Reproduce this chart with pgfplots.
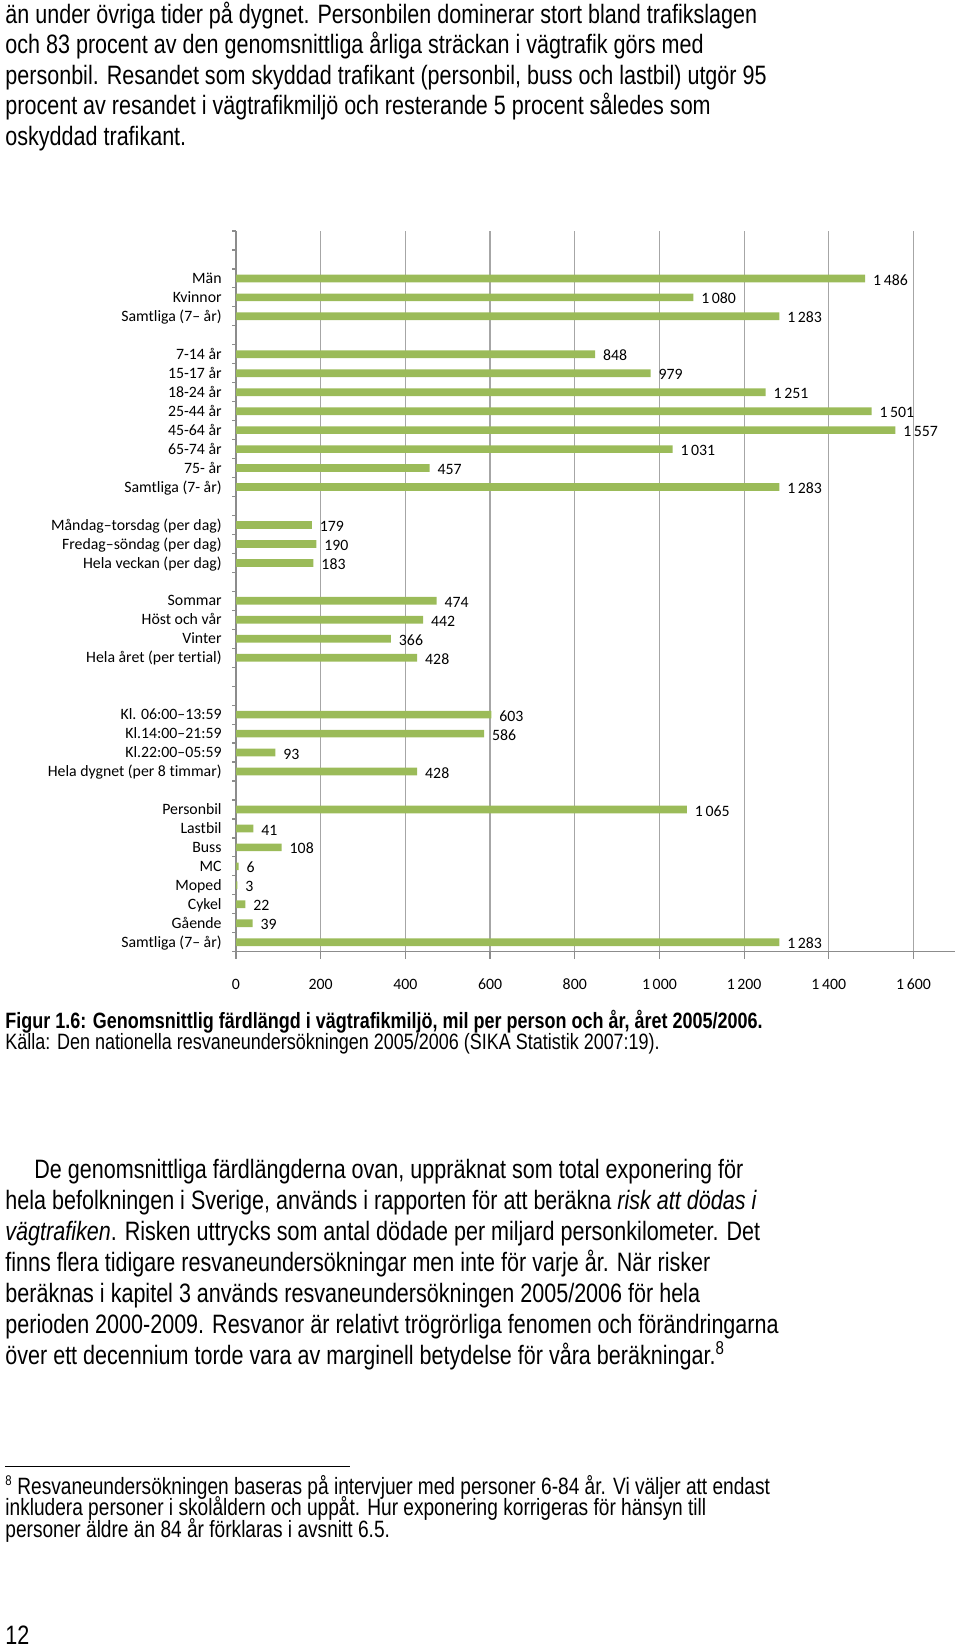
\documentclass[border=0pt]{standalone}
\usepackage{fontspec}
\setmainfont{Liberation Sans}[FakeStretch=0.81]
\newfontfamily\carlito{Carlito}[Ligatures={NoCommon}]
\usepackage{pgfplots}
\pgfplotsset{compat=1.18}
\definecolor{bargreen}{HTML}{9BBB59}
\definecolor{gridgray}{HTML}{A6A6A6}
\definecolor{axisgray}{HTML}{8C8C8C}
\newcommand\bodyfont{\fontsize{13.3}{15.3}\selectfont}
\newcommand\capfont{\fontsize{11.1}{12.5}\selectfont}
\newcommand\fnfont{\fontsize{11.8}{12}\selectfont}
\newcommand\chartfont{\carlito\fontsize{7.9}{9}\selectfont}
\begin{document}
\begin{tikzpicture}
\path[use as bounding box] (0,0) rectangle (480pt,-824pt);
\begin{scope}[every node/.style={anchor=base west, inner sep=0pt}]
\node[font=\bodyfont] at (2.5pt,-11.75pt) {än under övriga tider på dygnet. Personbilen dominerar stort bland trafikslagen};
\node[font=\bodyfont] at (2.5pt,-27pt) {och 83 procent av den genomsnittliga årliga sträckan i vägtrafik görs med};
\node[font=\bodyfont] at (2.5pt,-42.25pt) {personbil. Resandet som skyddad trafikant (personbil, buss och lastbil) utgör 95};
\node[font=\bodyfont] at (2.5pt,-57.5pt) {procent av resandet i vägtrafikmiljö och resterande 5 procent således som};
\node[font=\bodyfont] at (2.5pt,-72.75pt) {oskyddad trafikant.};
\node[font=\capfont\bfseries] at (2.5pt,-514pt) {Figur 1.6: Genomsnittlig färdlängd i vägtrafikmiljö, mil per person och år, året 2005/2006.};
\node[font=\capfont] at (2.5pt,-524.5pt) {Källa: Den nationella resvaneundersökningen 2005/2006 (SIKA Statistik 2007:19).};
\node[font=\bodyfont] at (17pt,-589.25pt) {De genomsnittliga färdlängderna ovan, uppräknat som total exponering för};
\node[font=\bodyfont] at (2.5pt,-604.75pt) {hela befolkningen i Sverige, används i rapporten för att beräkna \textit{risk att dödas i}};
\node[font=\bodyfont] at (2.5pt,-620.25pt) {\textit{vägtrafiken}. Risken uttrycks som antal dödade per miljard personkilometer. Det};
\node[font=\bodyfont] at (2.5pt,-635.75pt) {finns flera tidigare resvaneundersökningar men inte för varje år. När risker};
\node[font=\bodyfont] at (2.5pt,-651.25pt) {beräknas i kapitel 3 används resvaneundersökningen 2005/2006 för hela};
\node[font=\bodyfont] at (2.5pt,-666.75pt) {perioden 2000-2009. Resvanor är relativt trögrörliga fenomen och förändringarna};
\node[font=\bodyfont] at (2.5pt,-682.25pt) {över ett decennium torde vara av marginell betydelse för våra beräkningar.\textsuperscript{8}};
\node[font=\fontsize{7}{7}\selectfont] at (2.5pt,-742.5pt) {8};
\node[font=\fnfont] at (8.5pt,-747pt) {Resvaneundersökningen baseras på intervjuer med personer 6-84 år. Vi väljer att endast};
\node[font=\fnfont] at (2.5pt,-757.75pt) {inkludera personer i skolåldern och uppåt. Hur exponering korrigeras för hänsyn till};
\node[font=\fnfont] at (2.5pt,-768.5pt) {personer äldre än 84 år förklaras i avsnitt 6.5.};
\node[font=\bodyfont] at (2.5pt,-822pt) {12};
\end{scope}
\draw[line width=0.5pt] (2.5pt,-733pt) -- (175pt,-733pt);
\begin{axis}[
  at={(118pt,-475.85pt)}, anchor=south west,
  scale only axis, width=359.5pt, height=360.35pt,
  xmin=0, xmax=1698, ymin=0, ymax=38,
  enlargelimits=false,
  axis x line*=bottom, axis y line*=left,
  axis line style={axisgray, line width=0.6pt},
  xbar, bar width=3.85pt, bar shift=0pt,
  xtick={0,200,...,1600},
  xmajorgrids, grid style={gridgray, line width=0.6pt},
  ytick={0.5,1.5,...,37.5},
  yticklabels={Samtliga (7– år),Gående,Cykel,Moped,MC,Buss,Lastbil,Personbil,{},Hela dygnet (per 8 timmar),Kl.22:00–05:59,Kl.14:00–21:59,Kl. 06:00–13:59,{},{},Hela året (per tertial),Vinter,Höst och vår,Sommar,{},Hela veckan (per dag),Fredag–söndag (per dag),Måndag–torsdag (per dag),{},Samtliga (7- år),75- år,65-74 år,45-64 år,25-44 år,18-24 år,15-17 år,7-14 år,{},Samtliga (7– år),Kvinnor,Män,{},{}},
  minor ytick={0,1,...,38},
  tick align=outside,
  major tick length=3.5pt, minor tick length=1.8pt,
  every major y tick/.append style={draw=none},
  every minor y tick/.append style={axisgray, line width=0.6pt},
  every major x tick/.append style={axisgray, line width=0.6pt},
  /pgf/number format/1000 sep={\,},
  /pgf/number format/assume math mode=true,
  tick label style={font=\chartfont},
  xticklabel style={anchor=base, inner sep=0pt, yshift=-15.6pt},
  yticklabel style={anchor=base east, inner sep=0pt, xshift=-3.5pt, yshift=-2.55pt},
  nodes near coords, point meta=x,
  nodes near coords style={anchor=base west, inner sep=0pt, xshift=3.8pt, yshift=-3.3pt, font=\chartfont, black},
  clip=false,
]
\addplot[fill=bargreen, draw=none] coordinates {
(1486,35.5) (1080,34.5) (1283,33.5)
(848,31.5) (979,30.5) (1251,29.5) (1501,28.5) (1557,27.5) (1031,26.5) (457,25.5) (1283,24.5)
(179,22.5) (190,21.5) (183,20.5)
(474,18.5) (442,17.5) (366,16.5) (428,15.5)
(603,12.5) (586,11.5) (93,10.5) (428,9.5)
(1065,7.5) (41,6.5) (108,5.5) (6,4.5) (3,3.5) (22,2.5) (39,1.5) (1283,0.5)
};
\end{axis}
\end{tikzpicture}
\end{document}
